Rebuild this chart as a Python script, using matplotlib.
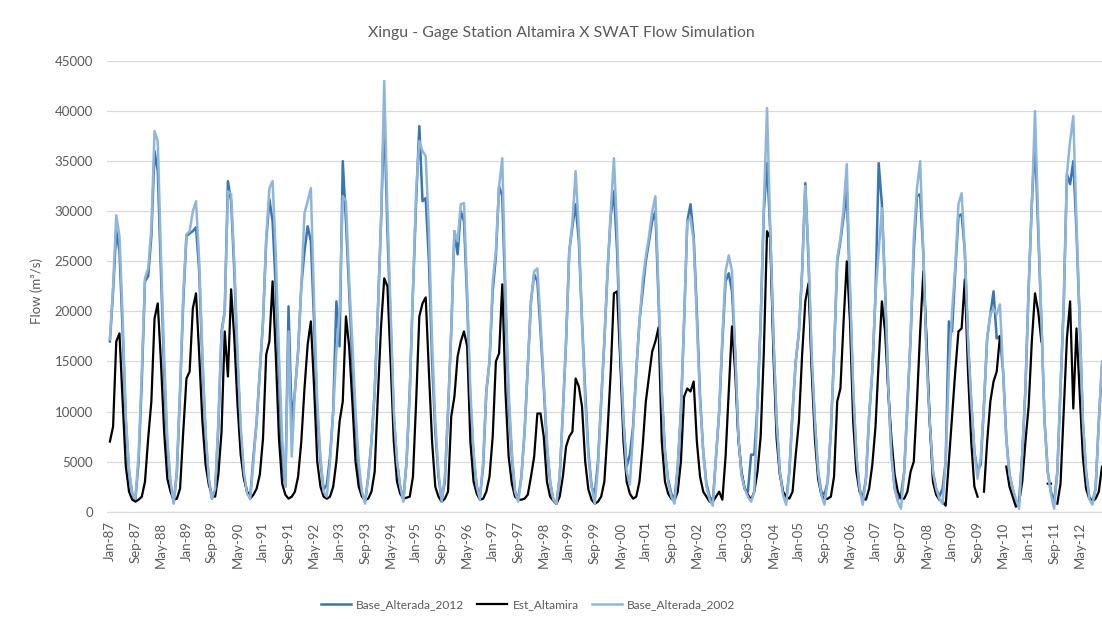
import numpy as np
import matplotlib
matplotlib.use("Agg")
import matplotlib.pyplot as plt
from matplotlib.lines import Line2D

nan = np.nan

# Monthly flow (m3/s), Jan-87 .. Dec-12
base_alterada_2012 = [
    17000, 22000, 28000, 26000, 18000, 9000, 4000, 1800, 1200, 5000, 13000, 23000,
    23500, 27500, 36000, 34000, 24000, 14000, 6500, 2800, 900, 4000, 12000, 21000,
    27500, 27800, 28000, 28400, 24000, 15000, 7500, 3200, 1300, 2000, 8500, 18000,
    20000, 33000, 31000, 24000, 15000, 8000, 3500, 2000, 1500, 5500, 9000, 14000,
    19000, 27000, 31200, 29000, 22300, 14000, 5000, 2500, 20500, 9000, 12000, 16000,
    22500, 26000, 28500, 27000, 19000, 10000, 5000, 2200, 2700, 5500, 10000, 21000,
    16500, 35000, 29000, 22000, 15000, 9000, 4000, 1800, 1000, 3500, 7000, 12000,
    20000, 29000, 39800, 28000, 19000, 9500, 5000, 2500, 1200, 5000, 12000, 22000,
    31000, 38500, 31000, 31300, 25000, 15000, 8000, 3500, 1200, 3000, 10000, 18000,
    28000, 25700, 30000, 29000, 21000, 11000, 5500, 2500, 1500, 4500, 12000, 15000,
    22000, 25500, 32500, 31500, 21000, 11000, 5500, 2000, 1300, 3500, 8000, 14500,
    21000, 23700, 23000, 18000, 12500, 6500, 3000, 1200, 800, 3500, 10000, 17000,
    26000, 28500, 30700, 27000, 19000, 12000, 6000, 2500, 1800, 5000, 11000, 17000,
    24000, 29500, 32000, 26000, 16000, 9000, 4500, 5700, 8500, 14000, 19000, 22000,
    25000, 27000, 29000, 30000, 21000, 12000, 6000, 3200, 1800, 1200, 4500, 10000,
    19000, 29000, 30700, 27500, 20000, 11500, 6000, 2800, 1500, 1000, 5500, 10000,
    17000, 23000, 23800, 22000, 16000, 7500, 3700, 2300, 2000, 5700, 5700, 10700,
    19000, 30000, 34800, 28000, 17300, 9000, 4000, 2000, 1200, 4000, 10000, 15000,
    18000, 24000, 32800, 25000, 15000, 9000, 4000, 2000, 1700, 3000, 8000, 15700,
    25000, 27000, 29500, 32000, 22000, 12000, 5500, 2300, 1300, 3300, 9500, 14000,
    21700, 34800, 30700, 22300, 12300, 5700, 2300, 1200, 1700, 4000, 10700, 17300,
    26000, 31500, 31700, 25700, 15700, 9000, 4000, 2300, 1500, 2300, 5000, 19000,
    18000, 24000, 29500, 29700, 26000, 17000, 11000, 6000, 4000, 4700, 10700, 17300,
    19700, 22000, 17300, 17500, 14000, 7300, 3700, 2300, 1000, 1000, 5700, 12300,
    22300, 30700, 37000, 28000, 19000, 9000, 4000, 2000, 1000, 4000, 12300, 20700,
    33700, 32700, 35000, 28000, 19000, 9000, 4000, 1500, 1000, 2300, 9000, 14500,
]

est_altamira = [
    7000, 8500, 17000, 17800, 11000, 4500, 2000, 1200, 1000, 1200, 1500, 3000,
    7300, 11000, 19300, 20800, 15000, 8000, 3300, 2000, 1200, 1300, 2300, 8000,
    13300, 14000, 20300, 21800, 15700, 9000, 4700, 2700, 1700, 1500, 3700, 8000,
    18000, 13500, 22200, 17300, 10700, 5700, 3300, 2000, 1300, 1700, 2300, 3700,
    7300, 15700, 17000, 23000, 15700, 7300, 2800, 1700, 1300, 1500, 2000, 3500,
    7000, 12300, 16700, 19000, 12500, 5000, 2500, 1500, 1300, 1500, 2500, 5000,
    9000, 11000, 19500, 16500, 11000, 5000, 2500, 1500, 1200, 1300, 2000, 4000,
    11500, 18500, 23300, 22500, 15000, 7000, 3000, 1800, 1300, 1400, 1500, 3500,
    11000, 19500, 20800, 21400, 14000, 7000, 2500, 1500, 1000, 1300, 2000, 9500,
    11500, 15500, 17000, 18000, 16500, 7000, 3000, 1800, 1200, 1300, 2000, 3500,
    7500, 15000, 15800, 22700, 12000, 5500, 2800, 1500, 1200, 1200, 1300, 1700,
    3500, 5500, 9800, 9800, 7500, 3000, 1500, 1100, 800, 1500, 3500, 6500,
    7500, 8000, 13300, 12500, 10500, 5000, 2200, 1200, 800, 1000, 1500, 3000,
    8000, 14000, 21800, 22000, 15000, 7000, 3000, 1800, 1300, 1500, 3000, 6500,
    11000, 13500, 16000, 17000, 18400, 7000, 3000, 1800, 1300, 1100, 2000, 5000,
    11500, 12300, 12000, 13000, 7000, 3500, 2000, 1500, 1000, 1000, 1500, 2000,
    1200, 5500, 12000, 18500, 14000, 7300, 4000, 2300, 1700, 1200, 2000, 4000,
    7500, 16000, 28000, 27300, 15700, 7300, 3700, 2000, 1500, 1300, 2000, 5700,
    9000, 15700, 21000, 22800, 14000, 7300, 3300, 1700, 1200, 1300, 1500, 3500,
    11000, 12300, 19000, 25000, 19000, 9000, 4000, 2000, 1300, 1200, 2300, 4700,
    8500, 15000, 21000, 18000, 12000, 7300, 3700, 2000, 1300, 1300, 2000, 4000,
    5000, 11000, 18000, 24000, 17300, 9000, 3000, 1700, 1200, 1000, 600, 5000,
    9500, 14000, 18000, 18300, 23200, 14000, 7000, 2500, 1500, nan, 2000, 7000,
    11000, 13000, 14000, 17500, nan, 4500, 2500, 1500, 500, 900, 3000, 7000,
    10500, 17000, 21800, 20000, 17000, nan, 2800, 2800, nan, 800, 2800, 10000,
    17300, 21000, 10300, 18300, 12000, 5500, 2300, 1300, 1000, 1300, 2000, 4500,
]

base_alterada_2002 = [
    17200, 22500, 29600, 27500, 19500, 9500, 4200, 1800, 1300, 5700, 14000, 23300,
    24300, 28300, 38000, 37000, 25700, 15700, 7300, 3000, 800, 4000, 12300, 21700,
    27700, 28000, 30000, 31000, 25000, 15700, 8000, 3300, 1300, 2300, 9000, 17700,
    20000, 32000, 31700, 25000, 16000, 8500, 4000, 1800, 1300, 5000, 9000, 14000,
    19000, 27300, 32300, 33000, 25700, 15700, 7300, 2500, 18000, 5500, 12000, 16000,
    22500, 29800, 31000, 32300, 21000, 11000, 5500, 2000, 1500, 5000, 10000, 16000,
    20000, 31500, 31000, 23000, 17000, 10000, 5000, 2000, 800, 3500, 7000, 12000,
    20000, 29000, 43000, 30000, 20000, 10000, 5000, 2500, 1000, 5000, 12000, 22000,
    32000, 37000, 36000, 35500, 28000, 17000, 9000, 4000, 1000, 3500, 10000, 18000,
    28000, 27000, 30700, 30800, 22000, 12000, 6000, 2500, 1200, 5000, 12000, 15000,
    23000, 26000, 32500, 35300, 22000, 12000, 6000, 2000, 1000, 3500, 8000, 14500,
    21000, 24000, 24300, 19000, 13000, 7000, 3000, 1200, 800, 3500, 10000, 17000,
    26000, 29000, 34000, 28000, 19000, 11000, 5500, 2500, 800, 4500, 11000, 17000,
    24000, 30000, 35300, 28000, 16500, 9000, 4000, 2700, 8000, 14000, 19000, 23000,
    25500, 27500, 30000, 31500, 22000, 12000, 6000, 3000, 1500, 800, 4500, 10000,
    19000, 29000, 29300, 27000, 19000, 11000, 6000, 2500, 1200, 600, 5500, 10000,
    17500, 24000, 25600, 24000, 16000, 7500, 3700, 2300, 1500, 1000, 2000, 10700,
    19000, 30700, 40300, 28300, 17300, 9000, 4000, 1700, 700, 4000, 10000, 15000,
    18000, 24000, 32500, 25700, 15700, 9000, 4000, 1700, 700, 3000, 8000, 15700,
    25300, 27300, 30300, 34700, 22300, 12300, 5700, 2300, 700, 3300, 9700, 14000,
    21700, 26000, 30300, 22300, 12300, 5700, 2300, 1000, 300, 4000, 10700, 17300,
    27300, 32300, 35000, 25700, 15700, 9000, 4000, 2300, 1300, 800, 5000, 14000,
    20000, 24500, 30700, 31800, 26000, 17000, 11000, 6000, 3300, 5500, 10700, 17300,
    19700, 20300, 19700, 20700, 14000, 7300, 3700, 2300, 1300, 300, 5700, 12300,
    22300, 30700, 40000, 29000, 19000, 9000, 4000, 1700, 300, 4000, 12300, 20700,
    33700, 37000, 39500, 29000, 19000, 9000, 4000, 1300, 700, 2300, 9000, 15000,
]

tick_labels = [
    "Jan-87", "Sep-87", "May-88", "Jan-89", "Sep-89", "May-90", "Jan-91", "Sep-91",
    "May-92", "Jan-93", "Sep-93", "May-94", "Jan-95", "Sep-95", "May-96", "Jan-97",
    "Sep-97", "May-98", "Jan-99", "Sep-99", "May-00", "Jan-01", "Sep-01", "May-02",
    "Jan-03", "Sep-03", "May-04", "Jan-05", "Sep-05", "May-06", "Jan-07", "Sep-07",
    "May-08", "Jan-09", "Sep-09", "May-10", "Jan-11", "Sep-11", "May-12",
]
tick_step = 8

plt.rcParams['font.family'] = ['Lato', 'DejaVu Sans']
TXT = '#595959'
GRID = '#D9D9D9'
C_DARK = '#3B75AF'
C_LIGHT = '#90B5DA'
C_BLACK = '#000000'

W, H = 1102, 619
fig = plt.figure(figsize=(W / 100, H / 100), dpi=100)
fig.patch.set_facecolor('white')

ax = fig.add_axes([106.7 / W, 1 - 511.7 / H, (W - 106.7) / W, (511.7 - 61) / H])

n = len(est_altamira)
x = np.arange(n)
ax.plot(x, base_alterada_2012, color=C_DARK, lw=1.8, solid_joinstyle='round', label='Base_Alterada_2012')
ax.plot(x, est_altamira, color=C_BLACK, lw=1.6, solid_joinstyle='round', label='Est_Altamira')
ax.plot(x, base_alterada_2002, color=C_LIGHT, lw=1.8, solid_joinstyle='round', label='Base_Alterada_2002')

ax.set_xlim(-1.0, 311.0)
ax.set_ylim(0, 45000)
ax.set_yticks(np.arange(0, 45001, 5000))
ax.set_yticklabels([f"{v:d}" for v in range(0, 45001, 5000)])
ax.set_xticks(np.arange(0, n, tick_step)[:len(tick_labels)])
ax.set_xticklabels(tick_labels, rotation=90)

ax.grid(axis='y', color=GRID, lw=0.9)
ax.set_axisbelow(True)
for s in ['top', 'right', 'left']:
    ax.spines[s].set_visible(False)
ax.spines['bottom'].set_color(GRID)
ax.spines['bottom'].set_linewidth(0.9)
ax.tick_params(axis='both', length=0, colors=TXT, labelsize=9.5)
ax.tick_params(axis='y', pad=10)
ax.tick_params(axis='x', pad=7)

fig.text(561 / W, 1 - 33 / H, 'Xingu - Gage Station Altamira X SWAT Flow Simulation',
         ha='center', va='center', fontsize=11.4, color=TXT)
fig.text(37 / W, 1 - 291 / H, 'Flow (m³/s)', rotation=90, ha='center', va='center',
         fontsize=9.5, color=TXT)

handles = [Line2D([], [], color=C_DARK, lw=1.8),
           Line2D([], [], color=C_BLACK, lw=1.6),
           Line2D([], [], color=C_LIGHT, lw=1.8)]
leg = fig.legend(handles, ['Base_Alterada_2012', 'Est_Altamira', 'Base_Alterada_2002'],
                 loc='center', bbox_to_anchor=(528 / W, 1 - 605 / H), ncol=3, frameon=False,
                 fontsize=8.6, handlelength=2.5, columnspacing=1.1, handletextpad=0.45)
for t in leg.get_texts():
    t.set_color(TXT)

fig.savefig('out.png', dpi=100)
